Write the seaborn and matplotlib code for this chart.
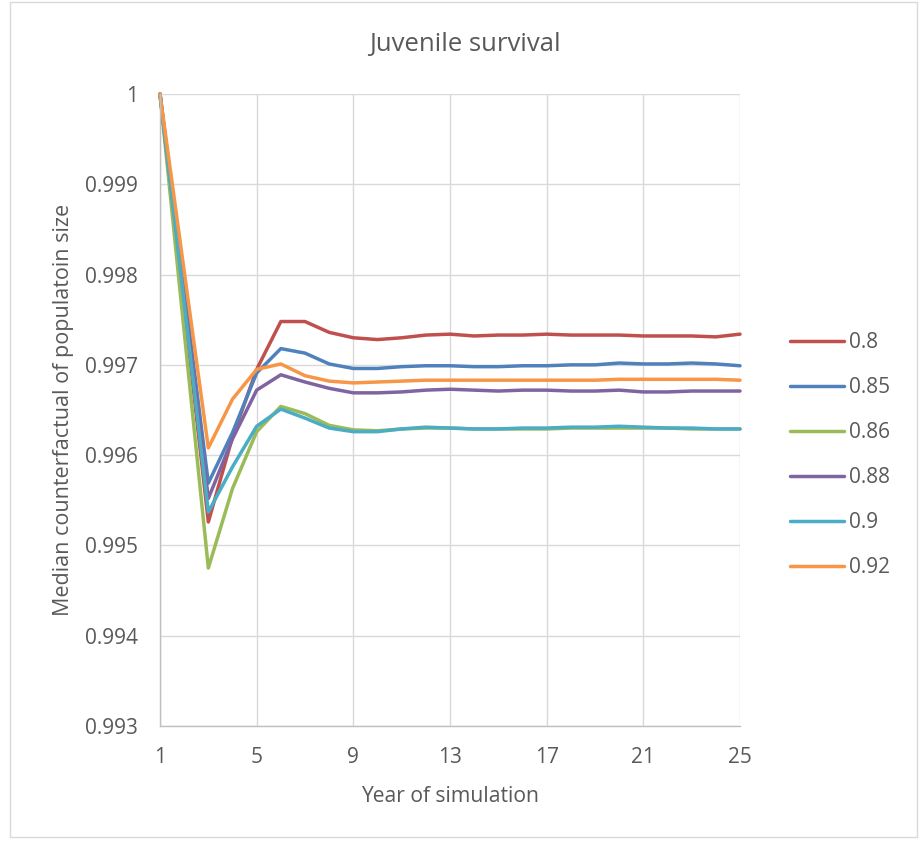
import matplotlib
matplotlib.use("Agg")
import matplotlib.pyplot as plt
import seaborn as sns
import pandas as pd
from matplotlib.patches import Rectangle

years = list(range(1, 26))
series_names = ["0.8", "0.85", "0.86", "0.88", "0.9", "0.92"]
s_080 = [1.0, 0.99763, 0.99526, 0.99620, 0.99695, 0.99748, 0.99748, 0.99736, 0.99730, 0.99728,
         0.99730, 0.99733, 0.99734, 0.99732, 0.99733, 0.99733, 0.99734, 0.99733, 0.99733, 0.99733,
         0.99732, 0.99732, 0.99732, 0.99731, 0.99734]
s_085 = [1.0, 0.99784, 0.99569, 0.99625, 0.99691, 0.99718, 0.99713, 0.99701, 0.99696, 0.99696,
         0.99698, 0.99699, 0.99699, 0.99698, 0.99698, 0.99699, 0.99699, 0.99700, 0.99700, 0.99702,
         0.99701, 0.99701, 0.99702, 0.99701, 0.99699]
s_086 = [1.0, 0.99737, 0.99475, 0.99563, 0.99626, 0.99654, 0.99646, 0.99633, 0.99628, 0.99627,
         0.99629, 0.99630, 0.99630, 0.99629, 0.99629, 0.99629, 0.99629, 0.99630, 0.99630, 0.99630,
         0.99630, 0.99630, 0.99629, 0.99629, 0.99629]
s_088 = [1.0, 0.99776, 0.99552, 0.99618, 0.99672, 0.99689, 0.99681, 0.99674, 0.99669, 0.99669,
         0.99670, 0.99672, 0.99673, 0.99672, 0.99671, 0.99672, 0.99672, 0.99671, 0.99671, 0.99672,
         0.99670, 0.99670, 0.99671, 0.99671, 0.99671]
s_090 = [1.0, 0.99769, 0.99537, 0.99587, 0.99632, 0.99651, 0.99641, 0.99630, 0.99626, 0.99626,
         0.99629, 0.99631, 0.99630, 0.99629, 0.99629, 0.99630, 0.99630, 0.99631, 0.99631, 0.99632,
         0.99631, 0.99630, 0.99630, 0.99629, 0.99629]
s_092 = [1.0, 0.99804, 0.99608, 0.99662, 0.99695, 0.99701, 0.99688, 0.99682, 0.99680, 0.99681,
         0.99682, 0.99683, 0.99683, 0.99683, 0.99683, 0.99683, 0.99683, 0.99683, 0.99683, 0.99684,
         0.99684, 0.99684, 0.99684, 0.99684, 0.99683]
colors = ["#C0504D", "#4F81BD", "#9BBB59", "#8064A2", "#4BACC6", "#F79646"]

x_ticks = [1, 5, 9, 13, 17, 21, 25]
y_ticks = [0.993, 0.994, 0.995, 0.996, 0.997, 0.998, 0.999, 1.0]
y_tick_labels = ["0.993", "0.994", "0.995", "0.996", "0.997", "0.998", "0.999", "1"]

all_series = [s_080, s_085, s_086, s_088, s_090, s_092]
rows = []
for name, vals in zip(series_names, all_series):
    for yr, v in zip(years, vals):
        rows.append({"year": yr, "value": v, "series": name})
df = pd.DataFrame(rows)

sns.set_theme(style="white")
plt.rcParams["font.family"] = ["Open Sans", "DejaVu Sans"]

W, H = 921, 842
fig = plt.figure(figsize=(W / 100, H / 100), dpi=100)
ax = fig.add_axes([160 / W, 1 - 726 / H, 580 / W, 632 / H])

sns.lineplot(data=df, x="year", y="value", hue="series", hue_order=series_names,
             palette=colors, linewidth=2.5, ax=ax, legend=True)
for ln in ax.lines:
    ln.set_clip_on(False)
    ln.set_solid_joinstyle("round")
    ln.set_solid_capstyle("round")

ax.set_xlim(1, 25)
ax.set_ylim(0.993, 1.0)
ax.set_xticks(x_ticks)
ax.set_xticklabels([str(t) for t in x_ticks])
ax.set_yticks(y_ticks)
ax.set_yticklabels(y_tick_labels)
ax.grid(True, color="#d9d9d9", linewidth=1.0)
ax.set_axisbelow(True)
for s in ["top", "right"]:
    ax.spines[s].set_visible(False)
for s in ["left", "bottom"]:
    ax.spines[s].set_color("#bfbfbf")
    ax.spines[s].set_linewidth(1.0)
ax.tick_params(axis="both", colors="#595959", labelsize=15, length=0)
ax.tick_params(axis="x", pad=15)
ax.tick_params(axis="y", pad=16)
ax.set_xlabel("Year of simulation", fontsize=15.2, color="#595959", labelpad=13)
ax.set_ylabel("Median counterfactual of populatoin size", fontsize=15.5, color="#595959", labelpad=8)

handles, labels = ax.get_legend_handles_labels()
ax.legend_.remove()
fig.legend(handles, labels, loc="upper left", bbox_to_anchor=(790 / W, 1 - 332 / H),
           frameon=False, fontsize=15, labelcolor="#595959", handlelength=2.6,
           handletextpad=0.25, labelspacing=1.15, borderpad=0, borderaxespad=0)

fig.text(465 / W, 1 - 45 / H, "Juvenile survival", ha="center", va="center",
         fontsize=18.5, color="#595959")

fig.patches.append(Rectangle((10 / W, 5 / H), 907 / W, 835 / H, transform=fig.transFigure,
                             fill=False, edgecolor="#d9d9d9", linewidth=1.0))

fig.savefig("out.png", dpi=100, facecolor="white")
